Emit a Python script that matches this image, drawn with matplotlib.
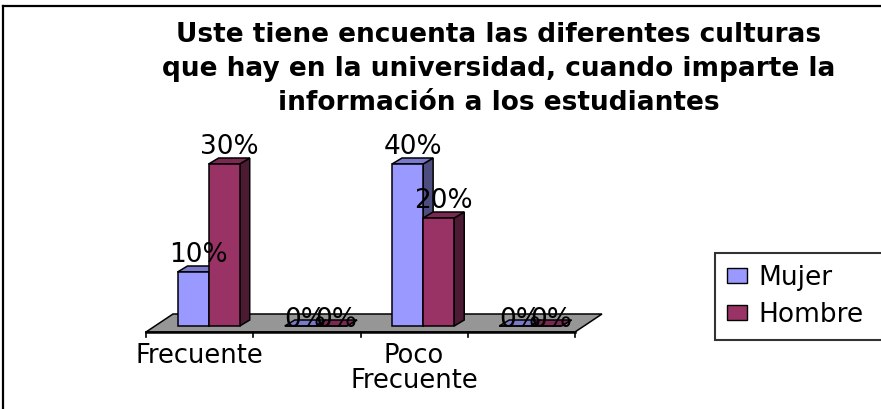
import matplotlib
matplotlib.use("Agg")
import matplotlib.pyplot as plt
from matplotlib.patches import Polygon, Patch
from matplotlib.lines import Line2D

# ---------------- data ----------------
title_lines = [
    "Uste tiene encuenta las diferentes culturas",
    "que hay en la universidad, cuando imparte la",
    "información a los estudiantes",
]
categories = ["Frecuente", "", "Poco\nFrecuente", ""]
series_names = ["Mujer", "Hombre"]
mujer_values = [10, 0, 30, 0]      # bar heights as drawn
hombre_values = [30, 0, 20, 0]
mujer_labels = ["10%", "0%", "40%", "0%"]
hombre_labels = ["30%", "0%", "20%", "0%"]

# ---------------- style ----------------
front_colors = ["#9999FF", "#993366"]
top_colors = ["#7A7ACC", "#7A2952"]
side_colors = ["#4D4D80", "#4D1A33"]
floor_color = "#969696"
FONT = "DejaVu Sans"

W, H = 881, 409
fig = plt.figure(figsize=(W / 100, H / 100), dpi=100)
fig.patch.set_facecolor("white")

# axes: bar plane, category boundaries at px 155..584, value 0 at px 326, 40 at 110
ax = fig.add_axes([155 / W, (H - 326) / H, 429 / W, 216 / H])
ax.set_xlim(-0.5, len(categories) - 0.5)
ax.set_ylim(0, 40)
ax.axis("off")

DEPTH = (10, 6)          # bar depth in pixels (right, up)
FLOOR_FRONT = (-9, -6)   # floor front edge offset from bar plane (px)
FLOOR_BACK = (18, 12)    # floor back edge offset from bar plane (px)
bar_w = 0.29
lw = 1.1


def off(x, y, dxp, dyp):
    p = ax.transData.transform((x, y))
    return tuple(ax.transData.inverted().transform((p[0] + dxp, p[1] + dyp)))


n = len(categories)
x0, x1 = -0.5, n - 0.5

# floor
floor = Polygon([off(x0, 0, *FLOOR_FRONT), off(x1, 0, *FLOOR_FRONT),
                 off(x1, 0, *FLOOR_BACK), off(x0, 0, *FLOOR_BACK)],
                closed=True, facecolor=floor_color, edgecolor="black",
                linewidth=lw, zorder=1, clip_on=False)
ax.add_patch(floor)

# category axis line + ticks along floor front edge
fl = off(x0, 0, *FLOOR_FRONT)
fr = off(x1, 0, *FLOOR_FRONT)
ax.add_line(Line2D([fl[0], fr[0]], [fl[1], fr[1]], color="black", lw=1.8,
                   zorder=1.5, clip_on=False))
for b in range(n + 1):
    t0 = off(b - 0.5, 0, FLOOR_FRONT[0], FLOOR_FRONT[1])
    t1 = off(b - 0.5, 0, FLOOR_FRONT[0], FLOOR_FRONT[1] - 5)
    ax.add_line(Line2D([t0[0], t1[0]], [t0[1], t1[1]], color="black", lw=1.2,
                       zorder=1.5, clip_on=False))

# bars
all_values = [mujer_values, hombre_values]
all_labels = [mujer_labels, hombre_labels]
for s, (vals, labs) in enumerate(zip(all_values, all_labels)):
    xs = [i + (s - 0.5) * bar_w for i in range(n)]
    ax.bar(xs, vals, width=bar_w, color=front_colors[s], edgecolor="black",
           linewidth=lw, zorder=3, clip_on=False)

for i in range(n):
    for s in range(len(series_names)):
        v = all_values[s][i]
        xc = i + (s - 0.5) * bar_w
        xl, xr = xc - bar_w / 2, xc + bar_w / 2
        side = Polygon([(xr, 0), off(xr, 0, *DEPTH), off(xr, v, *DEPTH), (xr, v)],
                       closed=True, facecolor=side_colors[s], edgecolor="black",
                       linewidth=lw, zorder=2, clip_on=False)
        top = Polygon([(xl, v), (xr, v), off(xr, v, *DEPTH), off(xl, v, *DEPTH)],
                      closed=True, facecolor=top_colors[s], edgecolor="black",
                      linewidth=lw, zorder=2, clip_on=False)
        ax.add_patch(side)
        ax.add_patch(top)
        dy = (DEPTH[1] + 4) if v > 0 else -1
        ax.annotate(all_labels[s][i], xy=(xc, v), xycoords="data",
                    xytext=(DEPTH[0] / 2 * 0.72, dy * 0.72),
                    textcoords="offset points", ha="center", va="baseline",
                    fontsize=19, family=FONT, color="black", zorder=5,
                    annotation_clip=False)

# category labels
for i, c in enumerate(categories):
    if not c:
        continue
    ax.annotate(c, xy=(i, 0), xycoords="data",
                xytext=(FLOOR_FRONT[0] * 0.72, (FLOOR_FRONT[1] - 11) * 0.72),
                textcoords="offset points", ha="center", va="top",
                fontsize=18.5, family=FONT, linespacing=0.95,
                annotation_clip=False)

# title
baselines = [41.7, 76, 110]
for line, yb in zip(title_lines, baselines):
    fig.text(499 / W, 1 - yb / H, line, ha="center", va="baseline",
             fontsize=19, fontweight="bold", family=FONT)

# legend
handles = [Patch(facecolor=front_colors[k], edgecolor="black", linewidth=1.0,
                 label=series_names[k]) for k in range(len(series_names))]
leg = fig.legend(handles=handles, loc="upper left",
                 bbox_to_anchor=(715 / W, 1 - 333 / H, 190 / W, 80 / H),
                 bbox_transform=fig.transFigure, mode="expand",
                 borderaxespad=0, frameon=True, fancybox=False,
                 prop={"family": FONT, "size": 19},
                 handlelength=0.76, handleheight=0.5, handletextpad=0.42,
                 labelspacing=0.42, borderpad=0.45)
leg.get_frame().set_edgecolor("black")
leg.get_frame().set_linewidth(1.5)

# outer chart border (only left and top edges fall inside the picture)
fig.add_artist(Line2D([3 / W, 3 / W], [0, 1 - 5.5 / H], transform=fig.transFigure,
                      color="black", lw=1.6))
fig.add_artist(Line2D([3 / W, 1], [1 - 5.5 / H, 1 - 5.5 / H], transform=fig.transFigure,
                      color="black", lw=1.6))

fig.savefig("out.png", dpi=100)
